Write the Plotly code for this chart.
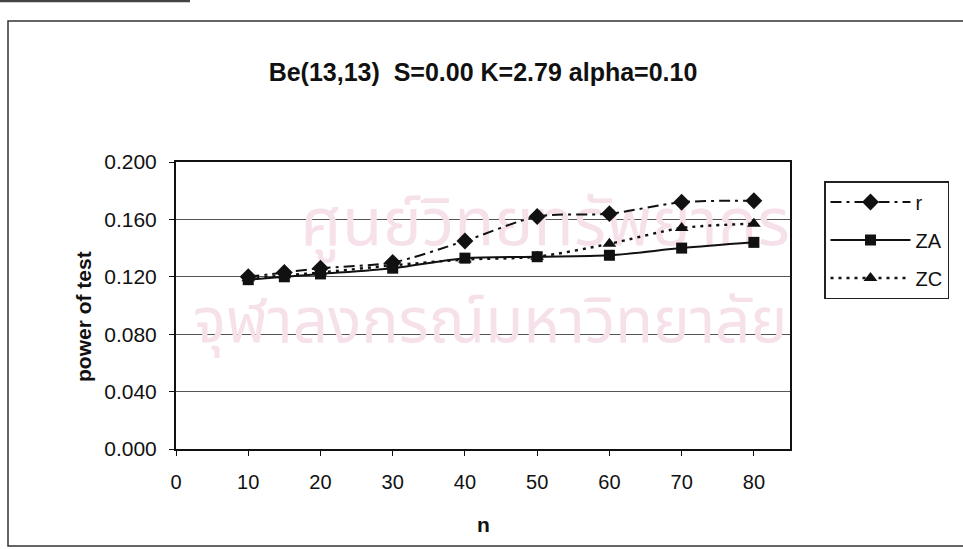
import plotly.graph_objects as go

# sample sizes and power of test for each statistic
n = [10, 15, 20, 30, 40, 50, 60, 70, 80]
power_r = [0.120, 0.123, 0.126, 0.130, 0.145, 0.162, 0.164, 0.172, 0.173]
power_za = [0.118, 0.120, 0.122, 0.126, 0.133, 0.134, 0.135, 0.140, 0.144]
power_zc = [0.119, 0.121, 0.123, 0.128, 0.132, 0.134, 0.143, 0.154, 0.157]

x_ticks = [0, 10, 20, 30, 40, 50, 60, 70, 80]
y_ticks = [0.0, 0.04, 0.08, 0.12, 0.16, 0.20]
y_tick_text = ["0.000", "0.040", "0.080", "0.120", "0.160", "0.200"]

title_text = "Be(13,13)  S=0.00 K=2.79 alpha=0.10"
watermark_lines = ["ศูนย์วิทยทรัพยากร", "จุฬาลงกรณ์มหาวิทยาลัย"]

FONT = "Liberation Sans, Arial, sans-serif"
INK = "#111111"

W, H = 963, 549
L, R, T, B = 176, 173, 162, 100
plot_w = W - L - R
plot_h = H - T - B


def px_x(p):
    return (p - L) / plot_w


def px_y(p):
    return (H - B - p) / plot_h


fig = go.Figure()

# faint library watermark behind the series
fig.add_trace(go.Scatter(
    x=[51.1, 43.5], y=[0.154, 0.0857],
    mode="text", text=watermark_lines,
    textfont=dict(family="Noto Sans Thai, Noto Sans, DejaVu Sans, sans-serif",
                  size=[66, 62], color="#f6e1ea"),
    cliponaxis=False, showlegend=False, hoverinfo="skip",
))

series = [
    ("r", power_r, "diamond", 13, dict(color=INK, width=2, dash="11px,5px,3px,5px")),
    ("ZA", power_za, "square", 11, dict(color=INK, width=2)),
    ("ZC", power_zc, "triangle-up", 12, dict(color=INK, width=2.4, dash="3px,5px")),
]
for name, vals, sym, size, line in series:
    fig.add_trace(go.Scatter(
        x=n, y=vals, name=name, mode="lines+markers",
        line=dict(shape="spline", smoothing=0.8, **line),
        marker=dict(symbol=sym, size=size, color=INK, line=dict(width=0)),
        legendgroup=name, cliponaxis=False,
    ))

frame = dict(color="#333333", width=1.5)
shapes = [
    dict(type="rect", xref="paper", yref="paper",
         x0=px_x(8), x1=px_x(990), y0=px_y(546), y1=px_y(21), line=frame),
    dict(type="line", xref="paper", yref="paper",
         x0=px_x(0), x1=px_x(190), y0=px_y(1), y1=px_y(1),
         line=dict(color="#444444", width=2.5)),
]

annotations = [
    dict(text="<b>power of test</b>", xref="paper", yref="paper",
         x=px_x(83), y=px_y(316), textangle=-90, showarrow=False,
         font=dict(family=FONT, size=21, color=INK),
         xanchor="center", yanchor="middle"),
    dict(text="<b>n</b>", xref="paper", yref="paper",
         x=px_x(483), y=px_y(524), showarrow=False,
         font=dict(family=FONT, size=21, color=INK),
         xanchor="center", yanchor="middle"),
]

fig.update_layout(
    width=W, height=H,
    margin=dict(l=L, r=R, t=T, b=B),
    paper_bgcolor="white", plot_bgcolor="white",
    title=dict(text="<b>" + title_text + "</b>", xref="paper", x=0.5,
               yref="container", y=1 - 72 / H, xanchor="center", yanchor="middle",
               font=dict(family=FONT, size=25, color=INK)),
    xaxis=dict(range=[0, 85], tickvals=x_ticks, ticks="outside", ticklen=5,
               tickcolor=INK, showgrid=False, zeroline=False,
               showline=True, linecolor=INK, linewidth=2, mirror=True,
               ticklabelstandoff=9,
               tickfont=dict(family=FONT, size=20, color=INK)),
    yaxis=dict(range=[0, 0.2], tickvals=y_ticks, ticktext=y_tick_text,
               ticks="outside", ticklen=5, tickcolor=INK,
               showgrid=True, gridcolor="#555555", gridwidth=1, zeroline=False,
               showline=True, linecolor=INK, linewidth=2, mirror=True,
               ticklabelstandoff=8,
               tickfont=dict(family=FONT, size=21, color=INK)),
    legend=dict(x=px_x(824), y=px_y(181), xanchor="left", yanchor="top",
                bordercolor="#222222", borderwidth=1.5, bgcolor="white",
                font=dict(family=FONT, size=20, color=INK),
                itemwidth=80, tracegroupgap=9, traceorder="grouped"),
    shapes=shapes,
    annotations=annotations,
)

fig.write_html("out.html")
